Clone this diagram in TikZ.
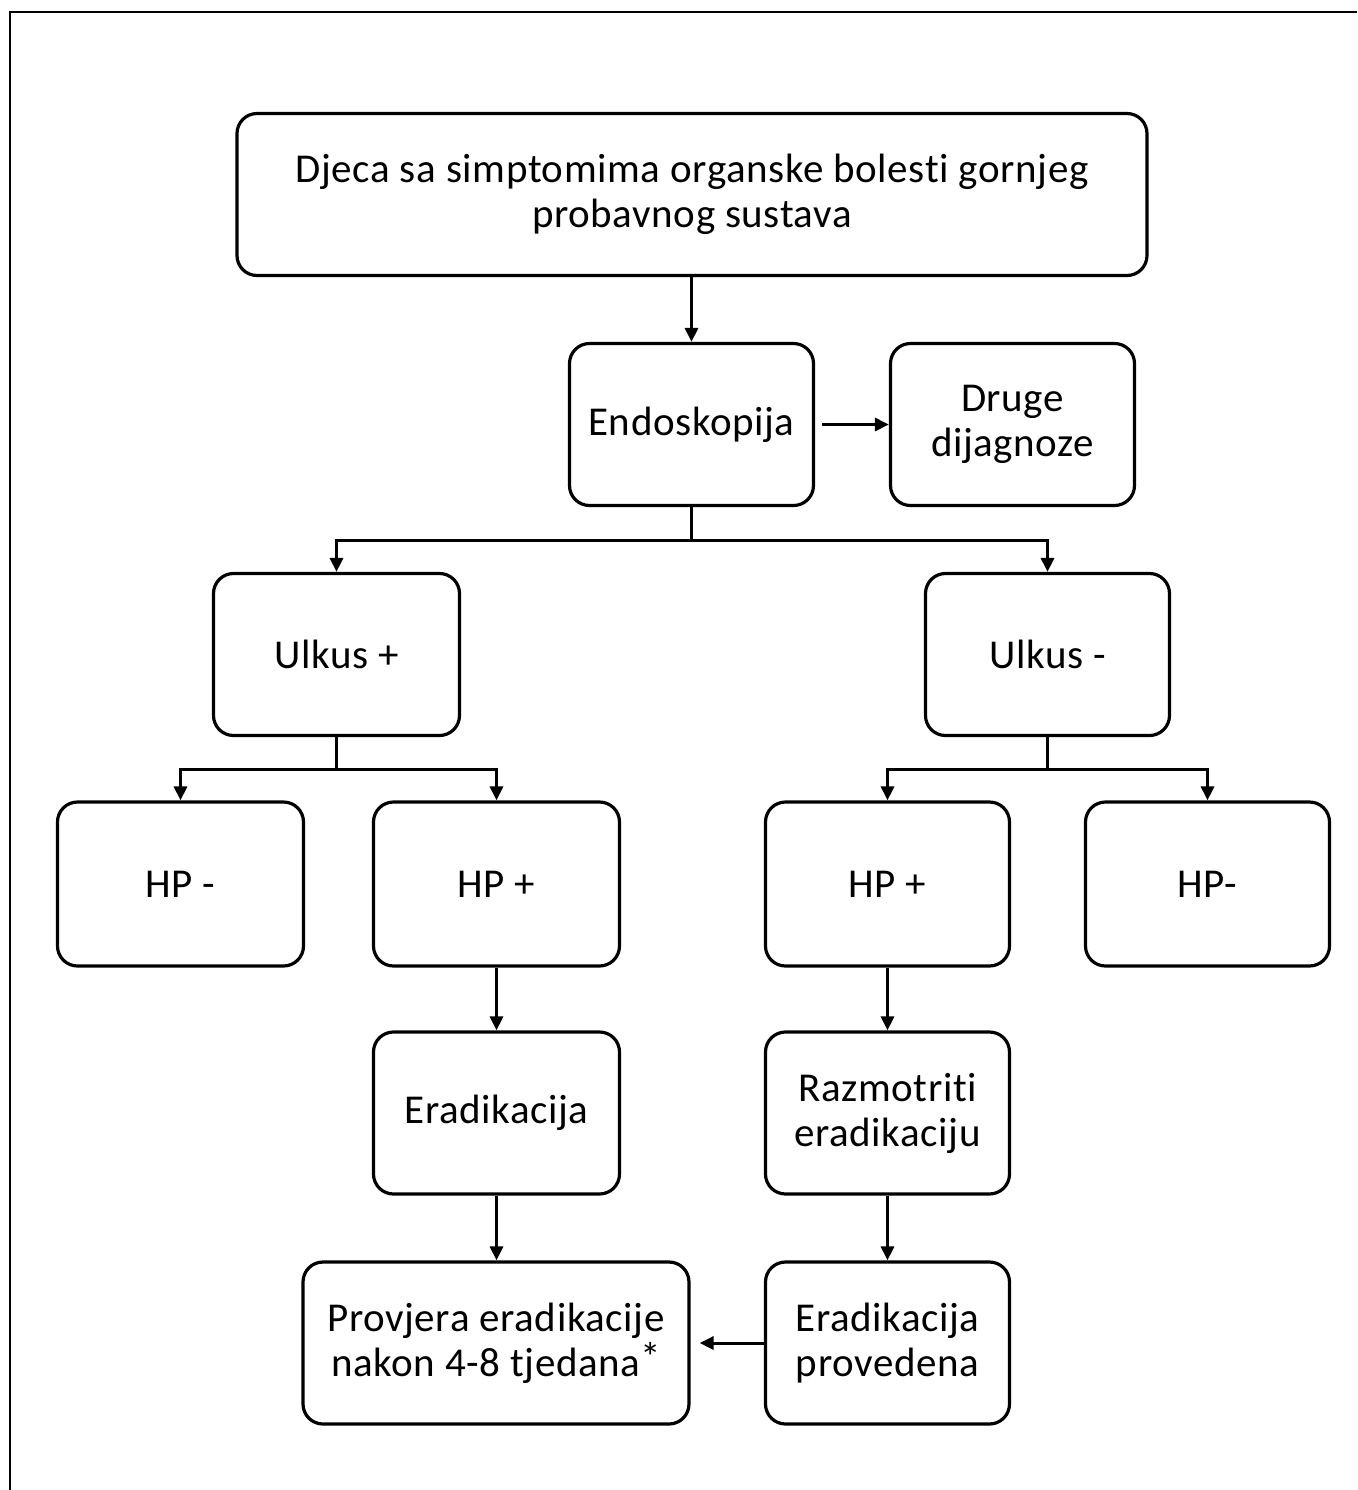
\documentclass[tikz,border=0pt]{standalone}
\usepackage{fontspec}
\setmainfont[LetterSpace=1.5,RawFeature={-liga;-dlig;-clig}]{Carlito}
\usetikzlibrary{arrows.meta}
\begin{document}
\begin{tikzpicture}[x=0.5pt,y=-0.5pt,
  box/.style={draw, line width=1.6pt, rounded corners=10pt, align=center,
    inner sep=0pt, font=\fontsize{20.5}{22.5}\selectfont},
  arr/.style={line width=1.5pt, -{Triangle[length=7pt,width=6.5pt]}},
  ln/.style={line width=1.5pt}]
\useasboundingbox (0,0) rectangle (1357,1490);
\draw[line width=1.3pt] (10,1490) -- (10,12) -- (1357,12);
% nodes
\node[box, minimum width=455pt, minimum height=81pt] (top) at (692,194.5) {Djeca sa simptomima organske bolesti gornjeg\\probavnog sustava};
\node[box, minimum width=122pt, minimum height=81pt] (endo) at (691.5,424.5) {Endoskopija};
\node[box, minimum width=122pt, minimum height=81pt] (druge) at (1012.5,424.5) {Druge\\dijagnoze};
\node[box, minimum width=123pt, minimum height=81pt] (ulkp) at (336.5,654.5) {Ulkus +};
\node[box, minimum width=122pt, minimum height=81pt] (ulkm) at (1047.5,654.5) {Ulkus -};
\node[box, minimum width=123pt, minimum height=82pt] (hpm1) at (180.5,884) {HP -};
\node[box, minimum width=123pt, minimum height=82pt] (hpp1) at (496.5,884) {HP +};
\node[box, minimum width=122pt, minimum height=82pt] (hpp2) at (887.5,884) {HP +};
\node[box, minimum width=122pt, minimum height=82pt] (hpm2) at (1207.5,884) {HP-};
\node[box, minimum width=123pt, minimum height=81pt] (erad) at (496.5,1113) {Eradikacija};
\node[box, minimum width=122pt, minimum height=81pt] (razm) at (887.5,1113) {Razmotriti\\eradikaciju};
\node[box, minimum width=193pt, minimum height=81pt] (prov) at (496,1343) {Provjera eradikacije\\nakon 4-8 tjedana\raisebox{2.5pt}{*}};
\node[box, minimum width=122pt, minimum height=81pt] (prove) at (887.5,1343) {Eradikacija\\provedena};
% connectors
\draw[arr] (top.south -| endo.north) -- (endo.north);
\draw[arr] ([xshift=3.5pt]endo.east) -- (druge.west);
\draw[ln] (endo.south) -- (endo.south |- 0,540);
\draw[arr] (endo.south |- 0,540) -| (ulkp.north);
\draw[arr] (endo.south |- 0,540) -| (ulkm.north);
\draw[ln] (ulkp.south) -- (ulkp.south |- 0,769);
\draw[arr] (ulkp.south |- 0,769) -| (hpm1.north);
\draw[arr] (ulkp.south |- 0,769) -| (hpp1.north);
\draw[ln] (ulkm.south) -- (ulkm.south |- 0,769);
\draw[arr] (ulkm.south |- 0,769) -| (hpp2.north);
\draw[arr] (ulkm.south |- 0,769) -| (hpm2.north);
\draw[arr] (hpp1.south) -- (erad.north);
\draw[arr] (hpp2.south) -- (razm.north);
\draw[arr] (erad.south) -- (prov.north -| erad.south);
\draw[arr] (razm.south) -- (prove.north);
\draw[arr] (prove.west) -- ([xshift=4.5pt]prov.east);
\end{tikzpicture}
\end{document}
